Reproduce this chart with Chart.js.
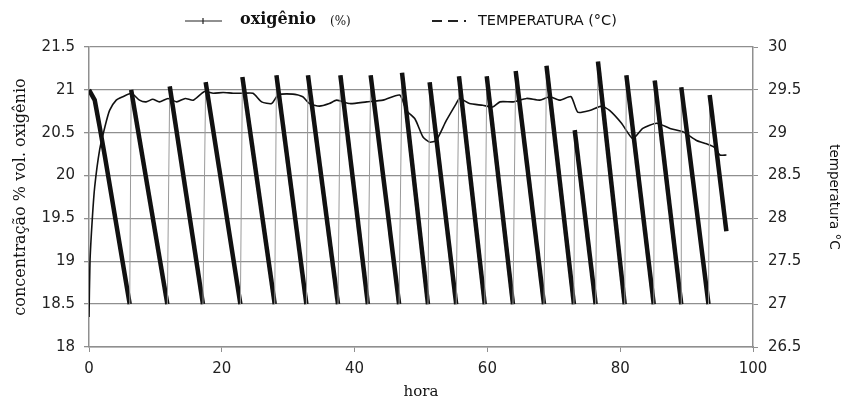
<!DOCTYPE html>
<html>
<head>
<meta charset="utf-8">
<script src="https://cdn.jsdelivr.net/npm/chart.js@4.4.0/dist/chart.umd.min.js"></script>
<style>
  html, body { margin: 0; padding: 0; background: #fff; }
  #wrap { width: 851px; height: 401px; }
</style>
</head>
<body>
<div id="wrap"><canvas id="Chart" width="851" height="401"></canvas></div>
<script>
// oxigênio (%) - sawtooth: each cycle drops from the top to 18.5 and is flushed back up
var oxiHora = [0, 0.86, 1.6, 2.4, 6.13,
    6.35, 11.8, 12.16, 17.16, 17.57, 22.8, 23.1, 27.97, 28.23, 32.74,
    32.98, 37.5, 37.86, 42.0, 42.42, 46.7, 47.14, 51.05, 51.3, 55.3,
    55.72, 59.6, 59.9, 63.85, 64.26, 68.52, 68.9, 73.03, 73.15, 76.3,
    76.65, 80.68, 80.93, 85.05, 85.2, 89.2, 89.2, 93.3, 93.48, 95.99]
var oxiValor = [21.0, 20.88, 20.57, 20.22, 18.5,
    21.0, 18.5, 21.04, 18.5, 21.09, 18.5, 21.15, 18.5, 21.17, 18.5,
    21.17, 18.5, 21.17, 18.5, 21.17, 18.5, 21.2, 18.5, 21.09, 18.5,
    21.16, 18.5, 21.16, 18.5, 21.22, 18.5, 21.28, 18.5, 20.53, 18.5,
    21.33, 18.5, 21.17, 18.5, 21.11, 18.5, 21.03, 18.5, 20.94, 19.35]

// TEMPERATURA (°C)
var tempHora = [0, 0.15, 0.5, 0.86, 1.6, 2.4, 3.1, 4.1, 5.1, 6.4, 7.6, 8.6, 9.6, 10.6, 11.9,
    13.2, 14.5, 15.7, 17.4, 18.7, 20.2, 21.7, 23.2, 24.7, 26, 27.5, 28.5, 30.7, 32.2,
    33.2, 34.7, 36.2, 37.3, 39.3, 41.8, 44.3, 46.8, 47.8, 49.1, 50.3, 51.3, 52.3, 53.8,
    55.3, 55.8, 57.3, 59.3, 60.8, 61.9, 63.9, 65.9, 67.9, 69.4, 70.9, 72.6, 73.6, 75.4,
    77.2, 78.4, 80.2, 81.9, 83.4, 85.5, 87.5, 89.5, 91.5, 93, 94.2, 95, 96]
var tempValor = [26.85, 27.5, 28.0, 28.37, 28.8, 29.07, 29.26, 29.38, 29.42, 29.46, 29.38, 29.36, 29.39, 29.36, 29.4,
    29.36, 29.4, 29.38, 29.48, 29.46, 29.47, 29.46, 29.46, 29.46, 29.36, 29.34, 29.44, 29.45, 29.42,
    29.34, 29.31, 29.34, 29.38, 29.34, 29.36, 29.38, 29.44, 29.26, 29.16, 28.95, 28.89, 28.91, 29.14,
    29.34, 29.4, 29.34, 29.32, 29.3, 29.36, 29.36, 29.4, 29.38, 29.42, 29.38, 29.42, 29.24, 29.26,
    29.31, 29.26, 29.11, 28.93, 29.05, 29.11, 29.05, 29.01, 28.91, 28.87, 28.83, 28.74, 28.74]

var oxiData = oxiHora.map(function (h, i) { return { x: h, y: oxiValor[i] }; });
var tempData = tempHora.map(function (h, i) { return { x: h, y: tempValor[i] }; });

var tickFont = { family: '"DejaVu Sans"', size: 15 };
var gridCor = '#8f8f8f';
// plain numbers: 21.5, 21, 20.5 ...
var semZeros = function (v) { return String(Math.round(v * 10) / 10); };

// legend drawn by hand: the two entries use different fonts
const legendaTopo = {
    id: 'legendaTopo',
    afterDraw(chart) {
        const c = chart.ctx;
        c.save();
        c.strokeStyle = '#222';
        c.fillStyle = '#111';
        c.lineWidth = 1.2;
        c.beginPath(); c.moveTo(185, 21); c.lineTo(222, 21); c.stroke();
        c.beginPath(); c.moveTo(203, 18); c.lineTo(203, 24); c.stroke();
        c.textBaseline = 'middle';
        c.font = 'bold 16px "DejaVu Serif"';
        c.fillText('oxigênio', 240, 20);
        c.font = '12px "DejaVu Serif"';
        c.fillText('(%)', 330, 22);
        c.lineWidth = 2;
        c.setLineDash([10, 6]);
        c.beginPath(); c.moveTo(432, 21); c.lineTo(466, 21); c.stroke();
        c.setLineDash([]);
        c.font = '14.5px "DejaVu Sans"';
        c.fillText('TEMPERATURA (°C)', 478, 21);
        c.restore();
    }
};

const ctx = document.getElementById('Chart');

var graphData = {
    type: 'line',
    data: {
        datasets: [{
            label: 'oxigênio (%)',
            data: oxiData,
            yAxisID: 'y',
            borderColor: '#111',
            borderWidth: 4.5,
            pointRadius: 0,
            tension: 0,
            segment: {
                // flushing (rising) segments are thin and grey
                borderWidth: function (s) { return s.p1.parsed.y > s.p0.parsed.y ? 1 : 4.5; },
                borderColor: function (s) { return s.p1.parsed.y > s.p0.parsed.y ? '#9a9a9a' : '#111'; }
            }
        }, {
            label: 'TEMPERATURA (°C)',
            data: tempData,
            yAxisID: 'y1',
            borderColor: '#111',
            borderWidth: 1.6,
            pointRadius: 0,
            tension: 0.2
        }]
    },
    options: {
        responsive: false,
        animation: false,
        layout: { padding: { top: 47, left: 0, right: 0, bottom: 0 } },
        plugins: {
            legend: { display: false },
            tooltip: { enabled: false }
        },
        scales: {
            x: {
                type: 'linear',
                min: 0,
                max: 100,
                ticks: { stepSize: 20, color: '#222', font: tickFont, padding: 8 },
                grid: { drawOnChartArea: false, drawTicks: true, tickLength: 5, color: gridCor },
                border: { color: gridCor, width: 1.5 },
                title: {
                    display: true,
                    text: 'hora',
                    color: '#111',
                    font: { family: '"DejaVu Serif"', size: 15 },
                    padding: { top: 0, bottom: 0 }
                },
                afterFit: function (scale) { scale.height = 54; }
            },
            y: {
                position: 'left',
                min: 18,
                max: 21.5,
                ticks: { stepSize: 0.5, color: '#222', font: tickFont, padding: 9, callback: semZeros },
                grid: { color: gridCor, lineWidth: 1.3, tickLength: 5 },
                border: { color: gridCor, width: 1.5 },
                title: {
                    display: true,
                    text: 'concentração % vol. oxigênio',
                    color: '#111',
                    font: { family: '"DejaVu Serif"', size: 16 },
                    padding: { top: 11, bottom: 0 }
                },
                afterFit: function (scale) { scale.width = 89; }
            },
            y1: {
                position: 'right',
                min: 26.5,
                max: 30,
                ticks: { stepSize: 0.5, color: '#222', font: tickFont, padding: 10, callback: semZeros },
                grid: { drawOnChartArea: false, tickLength: 5, color: gridCor },
                border: { color: gridCor, width: 1.5 },
                title: {
                    display: true,
                    text: 'temperatura °C',
                    color: '#111',
                    font: { family: '"DejaVu Sans"', size: 13.5 },
                    padding: { top: 9, bottom: 0 }
                },
                afterFit: function (scale) { scale.width = 98; }
            }
        }
    },
    plugins: [legendaTopo]
};

var myChart = new Chart(ctx, graphData);
</script>
</body>
</html>
